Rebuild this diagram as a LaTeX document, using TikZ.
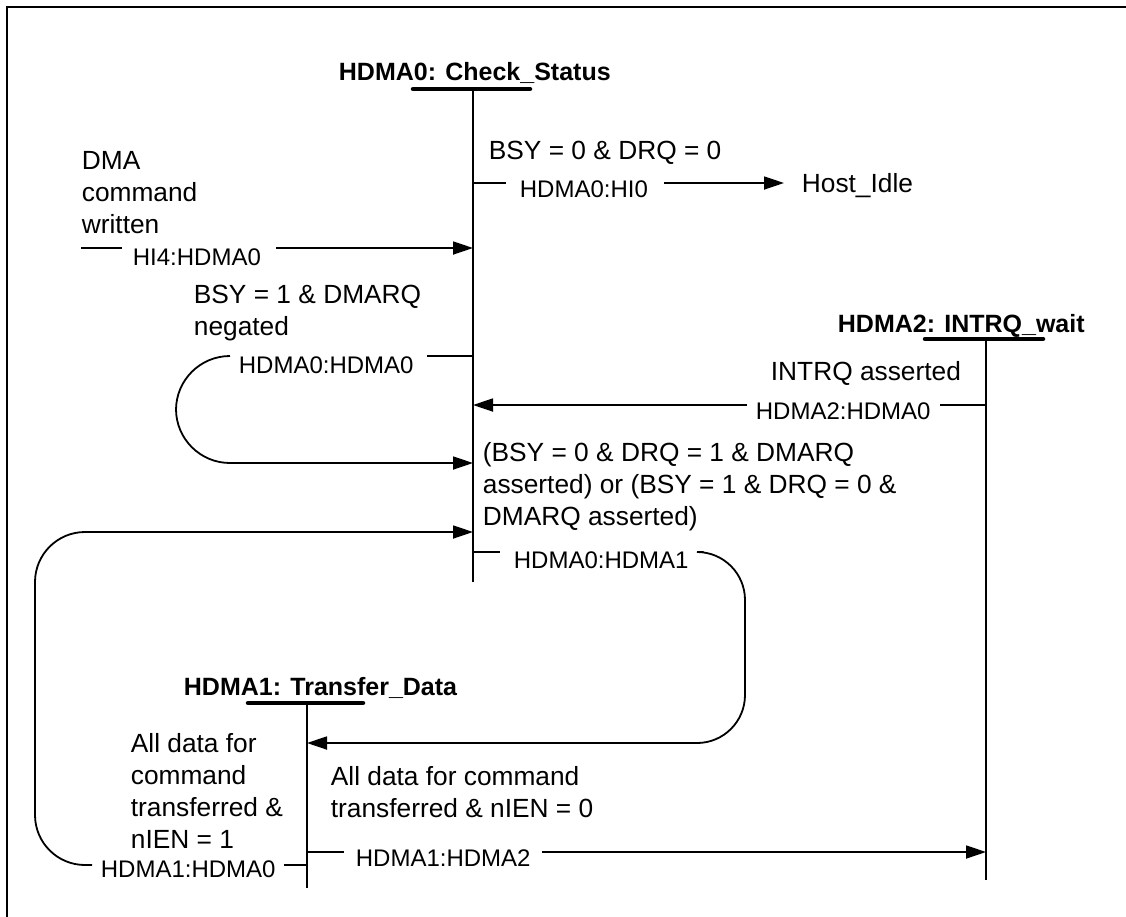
\documentclass[tikz,border=0pt]{standalone}
\usepackage{fontspec}
\setmainfont{Liberation Sans}
\usepackage{tikz}
\usetikzlibrary{arrows.meta}

\begin{document}
\begin{tikzpicture}[x=1pt, y=-1pt, >={Triangle[length=20pt, width=13pt]}, line width=1.8pt]
    \tikzset{
        state/.style={inner sep=0pt, anchor=base west, font=\fontsize{25}{30}\selectfont\bfseries},
        cond/.style={inner sep=0pt, anchor=base west, align=left, font=\fontsize{26.3}{31.7}\selectfont},
        trans/.style={inner sep=0pt, anchor=base west, font=\fontsize{24}{30}\selectfont},
        bar/.style={line width=4.5pt, line cap=round},
        line/.style={draw, ->}
    }
    \useasboundingbox (0,0) rectangle (1126,916);
    \draw [line width=2.2pt] (7,940) -- (7,7) -- (1140,7);

    % states and their lines
    \node (CheckStatus) [state] at (338,80) {HDMA0: Check\_Status};
    \node (TransferData) [state] at (183,695) {HDMA1: Transfer\_Data};
    \node (IntrqWait) [state] at (837,332) {HDMA2: INTRQ\_wait};
    \coordinate (S0top) at (473,89);  \coordinate (S0bot) at (473,582);
    \coordinate (S1top) at (307,703); \coordinate (S1bot) at (307,888);
    \coordinate (S2top) at (986,339); \coordinate (S2bot) at (986,880);
    \draw [bar] ([xshift=-60pt]S0top) -- ([xshift=57pt]S0top);
    \draw [bar] ([xshift=-59pt]S1top) -- ([xshift=56pt]S1top);
    \draw [bar] ([xshift=-61pt]S2top) -- ([xshift=57pt]S2top);
    \draw (S0top) -- (S0bot);
    \draw (S1top) -- (S1bot);
    \draw (S2top) -- (S2bot);

    % points on the state lines
    \coordinate (HIin) at (81,248);
    \coordinate (S0a) at (473,248);
    \coordinate (S0b) at (473,183);
    \coordinate (S0c) at (473,356);
    \coordinate (S0d) at (473,463);
    \coordinate (S0e) at (473,405);
    \coordinate (S0f) at (473,552);
    \coordinate (S0g) at (473,532);
    \coordinate (S1a) at (307,743);
    \coordinate (S1b) at (307,865);
    \coordinate (S1c) at (307,852);
    \coordinate (S2a) at (986,405);
    \coordinate (S2b) at (986,852);
    \coordinate (LoopA) at (176,463);
    \coordinate (LoopB) at (745,743);
    \coordinate (LoopC) at (35,532);

    % conditions (anchored at the baseline of their last line)
    \node (DmaCmd) [cond] at (81,233) {DMA\\command\\written};
    \node (IdleCond) [cond] at (488,159) {BSY = 0 \& DRQ = 0};
    \node (NegCond) [cond] at (193,335) {BSY = 1 \& DMARQ\\negated};
    \node (IntrqCond) [cond] at (770,380) {INTRQ asserted};
    \node (XferCond) [cond] at (482,525) {(BSY = 0 \& DRQ = 1 \& DMARQ\\asserted) or (BSY = 1 \& DRQ = 0 \&\\DMARQ asserted)};
    \node (DoneCondA) [cond] at (130,848) {All data for\\command\\transferred \&\\nIEN = 1};
    \node (DoneCondB) [cond] at (330,817) {All data for command\\transferred \& nIEN = 0};

    % transition labels
    \node (HItoCheck) [trans] at (132,265) {HI4:HDMA0};
    \node (CheckToIdle) [trans] at (519,197) {HDMA0:HI0};
    \node (HostIdle) [cond] at (801,192) {Host\_Idle};
    \node (CheckToCheck) [trans] at (238,373) {HDMA0:HDMA0};
    \node (WaitToCheck) [trans] at (755,419) {HDMA2:HDMA0};
    \node (CheckToXfer) [trans] at (513,568) {HDMA0:HDMA1};
    \node (XferToCheck) [trans] at (100,877) {HDMA1:HDMA0};
    \node (XferToWait) [trans] at (355,866) {HDMA1:HDMA2};

    \draw (HIin) -- ([xshift=-10pt]HItoCheck.west |- HIin);
    \path [line] ([xshift=14pt]HItoCheck.east |- HIin) -- (S0a);
    \draw (S0b) -- ([xshift=-13pt]CheckToIdle.west |- S0b);
    \path [line] ([xshift=15pt]CheckToIdle.east |- S0b) -- ([xshift=-17pt]HostIdle.west |- S0b);
    \draw (S0c) -- ([xshift=13pt]CheckToCheck.east |- S0c);
    \path [line, rounded corners=54pt] ([xshift=-8pt]CheckToCheck.west |- S0c) -| (LoopA) -- (S0d);
    \draw (S2a) -- ([xshift=8pt]WaitToCheck.east |- S2a);
    \path [line] ([xshift=-8pt]WaitToCheck.west |- S2a) -- (S0e);
    \draw (S0f) -- ([xshift=-13pt]CheckToXfer.west |- S0f);
    \path [line, rounded corners=48pt] ([xshift=14pt]CheckToXfer.east |- S0f) -| (LoopB) -- (S1a);
    \draw (S1b) -- ([xshift=8pt]XferToCheck.east |- S1b);
    \path [line, rounded corners=50pt] ([xshift=-8pt]XferToCheck.west |- S1b) -| (LoopC) -- (S0g);
    \draw (S1c) -- ([xshift=-11pt]XferToWait.west |- S1c);
    \path [line] ([xshift=11pt]XferToWait.east |- S1c) -- (S2b);

\end{tikzpicture}
\end{document}
